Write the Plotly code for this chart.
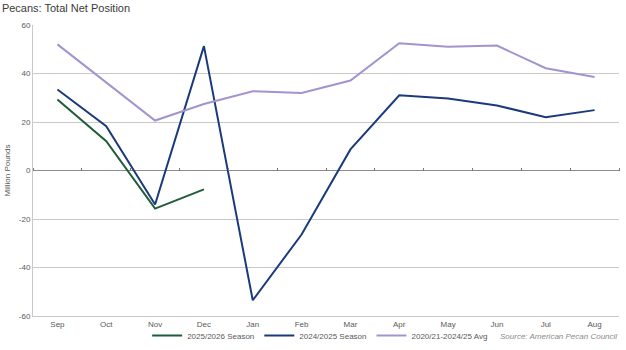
import plotly.graph_objects as go

months = ["Sep", "Oct", "Nov", "Dec", "Jan", "Feb", "Mar", "Apr", "May", "Jun", "Jul", "Aug"]

season_2025_26 = [29.3, 12.1, -15.7, -7.8]
season_2024_25 = [33.4, 18.3, -14.0, 51.3, -53.5, -26.4, 8.7, 31.0, 29.7, 26.8, 22.0, 24.9]
avg_2020_2025 = [52.0, 36.3, 20.6, 27.4, 32.7, 32.0, 37.1, 52.5, 51.0, 51.5, 42.2, 38.6]

y_ticks = [60, 40, 20, 0, -20, -40, -60]
y_tick_text = ["60", "40", "20", "0", "-20", "-40", "-60"]

FONT = "Liberation Sans"
GRID = "#c9c9c9"
LABEL = "#595959"

fig = go.Figure()
fig.add_trace(go.Scatter(x=months[:len(season_2025_26)], y=season_2025_26, mode="lines",
                         name="2025/2026 Season", line=dict(color="#1f5c3a", width=2)))
fig.add_trace(go.Scatter(x=months, y=season_2024_25, mode="lines",
                         name="2024/2025 Season", line=dict(color="#1b3a7c", width=2)))
fig.add_trace(go.Scatter(x=months, y=avg_2020_2025, mode="lines",
                         name="2020/21-2024/25 Avg", line=dict(color="#a393cf", width=2)))

# helper trace carrying the boundary ticks drawn along the zero line
fig.add_trace(go.Scatter(x=months, y=[0] * len(months), xaxis="x2", showlegend=False,
                         hoverinfo="skip", mode="lines", line=dict(width=0)))

fig.update_layout(
    width=626, height=350,
    margin=dict(l=33, r=7, t=25, b=34, autoexpand=False),
    paper_bgcolor="white", plot_bgcolor="white",
    font=dict(family=FONT, size=8, color=LABEL),
    title=dict(text="Pecans: Total Net Position", x=0.003, xanchor="left", y=0.978, yanchor="middle",
               font=dict(family=FONT, size=11, color="#3a3a3a")),
    showlegend=True,
    legend=dict(orientation="h", x=0.49, xanchor="center", y=-0.067, yanchor="middle",
                font=dict(family=FONT, size=8, color=LABEL), itemwidth=30,
                tracegroupgap=0, bgcolor="rgba(0,0,0,0)"),
    xaxis=dict(type="category", categoryorder="array", categoryarray=months, range=[-0.5, 11.5],
               showgrid=False, showline=True, linecolor=GRID, linewidth=1,
               ticks="", tickfont=dict(family=FONT, size=8, color=LABEL)),
    xaxis2=dict(type="category", categoryorder="array", categoryarray=months, range=[-0.5, 11.5],
                overlaying="x", anchor="free", position=0.5, side="top",
                showgrid=False, showline=False, showticklabels=False,
                ticks="outside", ticklen=3, tickwidth=1, tickcolor="#7a7a7a", tickson="boundaries"),
    yaxis=dict(range=[-60, 60], tickvals=y_ticks, ticktext=y_tick_text,
               showgrid=True, gridcolor=GRID, gridwidth=1,
               zeroline=True, zerolinecolor="#8c8c8c", zerolinewidth=1,
               showline=True, linecolor=GRID, linewidth=1,
               ticks="", tickfont=dict(family=FONT, size=8, color=LABEL),
               title=dict(text="Million Pounds", standoff=7, font=dict(family=FONT, size=8, color=LABEL))),
)

fig.add_annotation(text="<i>Source: American Pecan Council</i>", xref="paper", yref="paper",
                   x=1.0, y=-0.07, xanchor="right", yanchor="middle", showarrow=False,
                   font=dict(family=FONT, size=8, color="#8a8a8a"))

fig.write_html("out.html")
